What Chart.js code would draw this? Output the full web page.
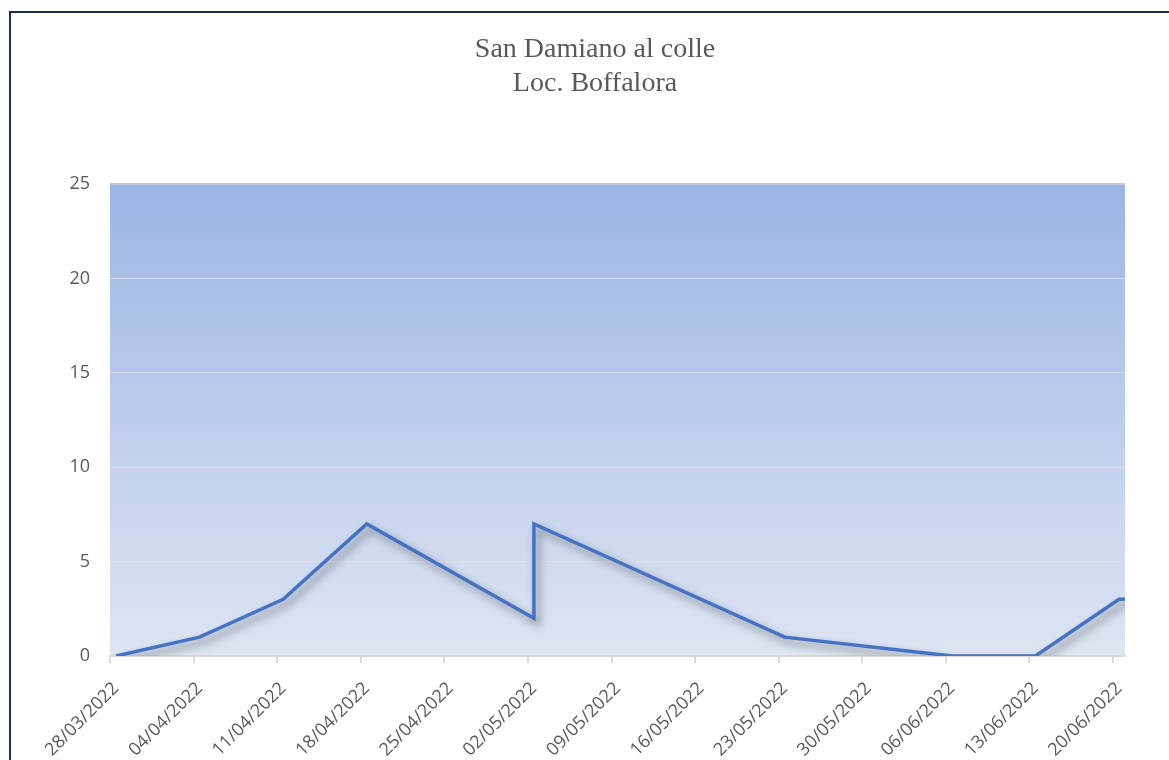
<!DOCTYPE html>
<html>
<head>
<meta charset="utf-8">
<script src="https://cdn.jsdelivr.net/npm/chart.js@4/dist/chart.umd.min.js"></script>
<style>
    body { margin: 0; background: #fff; }
    #wrap { position: relative; width: 1169px; height: 760px; overflow: hidden; }
    #frame {
        position: absolute; left: 9px; top: 11px; width: 1300px; height: 900px;
        border-left: 2px solid #1f2d5a; border-top: 2px solid #1f2d5a;
        pointer-events: none;
    }
</style>
</head>
<body>
<div id="wrap">
    <canvas id="chart" width="1169" height="760"></canvas>
    <div id="frame"></div>
</div>
<script>
const titleLines = ["San Damiano al colle", "Loc. Boffalora"];

// sample dates and values
const sampleDates = [
    "28/03/2022", "04/04/2022", "11/04/2022", "18/04/2022",
    "02/05/2022", "02/05/2022", "23/05/2022", "06/06/2022",
    "13/06/2022", "20/06/2022", "21/06/2022"
];
const sampleValues = [0, 1, 3, 7, 2, 7, 1, 0, 0, 3, 3];

const tickLabels = [
    "28/03/2022", "04/04/2022", "11/04/2022", "18/04/2022", "25/04/2022",
    "02/05/2022", "09/05/2022", "16/05/2022", "23/05/2022", "30/05/2022",
    "06/06/2022", "13/06/2022", "20/06/2022"
];
const axisEnd = "21/06/2022";
const yTicks = [0, 5, 10, 15, 20, 25];

function toDay(str) {
    const [d, m, y] = str.split("/").map(Number);
    return Date.UTC(y, m - 1, d) / 86400000;
}
const day0 = toDay(tickLabels[0]);
const dayOf = s => toDay(s) - day0;

// excel date axis puts each point in the middle of its day
const points = sampleDates.map((d, i) => ({ x: dayOf(d) + 0.5, y: sampleValues[i] }));
const tickDays = tickLabels.map(dayOf);

const plotBackground = {
    id: "plotBackground",
    beforeDraw(chart) {
        const { ctx, chartArea: a } = chart;
        const g = ctx.createLinearGradient(0, a.top, 0, a.bottom);
        g.addColorStop(0, "#9bb5e4");
        g.addColorStop(1, "#dee5f3");
        ctx.save();
        ctx.fillStyle = g;
        ctx.fillRect(a.left, a.top, a.right - a.left, a.bottom - a.top);
        ctx.restore();
    }
};

const lineShadow = {
    id: "lineShadow",
    beforeDatasetDraw(chart) {
        const ctx = chart.ctx;
        ctx.save();
        ctx.shadowColor = "rgba(0,0,0,0.45)";
        ctx.shadowBlur = 8;
        ctx.shadowOffsetX = 4;
        ctx.shadowOffsetY = 5;
    },
    afterDatasetDraw(chart) {
        chart.ctx.restore();
    }
};

new Chart(document.getElementById("chart"), {
    type: "line",
    data: {
        datasets: [{
            data: points,
            borderColor: "#4472c4",
            borderWidth: 3.5,
            borderJoinStyle: "miter",
            pointRadius: 0,
            tension: 0,
            fill: false
        }]
    },
    options: {
        responsive: false,
        animation: false,
        events: [],
        layout: { padding: { left: 21, right: 0, top: 0, bottom: 0 } },
        plugins: {
            legend: { display: false },
            tooltip: { enabled: false },
            title: {
                display: true,
                text: titleLines,
                color: "#595959",
                font: { family: "'Liberation Serif', serif", size: 28, weight: "normal", lineHeight: 1.215 },
                padding: { top: 33, bottom: 83 }
            }
        },
        scales: {
            x: {
                type: "linear",
                min: 0,
                max: dayOf(axisEnd),
                afterBuildTicks(scale) {
                    scale.ticks = tickDays.map(v => ({ value: v }));
                },
                afterFit(scale) { scale.height = 104; },
                grid: {
                    drawOnChartArea: false,
                    drawTicks: true,
                    tickLength: 7,
                    color: "#d9d9d9",
                    lineWidth: 2
                },
                border: { color: "#d9d9d9", width: 2 },
                ticks: {
                    autoSkip: false,
                    minRotation: 45,
                    maxRotation: 45,
                    padding: 15,
                    labelOffset: 6,
                    color: "#595959",
                    font: { family: "'Open Sans'", size: 18 },
                    callback: (v) => tickLabels[tickDays.indexOf(v)] || ""
                }
            },
            y: {
                min: 0,
                max: 25,
                afterBuildTicks(scale) {
                    scale.ticks = yTicks.map(v => ({ value: v }));
                },
                afterFit(scale) { scale.width = 89; },
                grid: {
                    drawTicks: false,
                    color: (c) => c.tick && c.tick.value === 25 ? "#c9c9c9" : "rgba(225,225,225,0.85)",
                    lineWidth: (c) => c.tick && c.tick.value === 25 ? 2 : 1
                },
                border: { display: false },
                ticks: {
                    padding: 20,
                    color: "#595959",
                    font: { family: "'Open Sans'", size: 18 }
                }
            },
            // empty right-hand axis, only keeps the space right of the plot
            spacer: {
                type: "linear",
                position: "right",
                display: true,
                afterFit(scale) { scale.width = 44; },
                grid: { display: false },
                border: { display: false },
                ticks: { display: false }
            }
        }
    },
    plugins: [plotBackground, lineShadow]
});
</script>
</body>
</html>
